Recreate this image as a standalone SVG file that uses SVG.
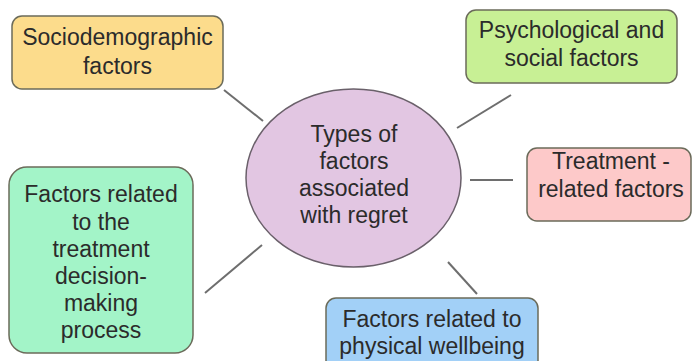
<svg xmlns="http://www.w3.org/2000/svg" width="696" height="361" viewBox="0 0 696 361">
<style>
text{font-family:"Liberation Sans",Arial,sans-serif;font-size:23px;text-anchor:middle;fill:#2b2b2b}
.box{stroke:#6b6b5a;stroke-width:1.5}
.conn line{stroke:#6e6e6e;stroke-width:2}
</style>
<rect width="696" height="361" fill="#ffffff"/>
<g class="conn" id="connectors">
<line x1="224" y1="90" x2="263" y2="121"/>
<line x1="457" y1="128" x2="511" y2="95"/>
<line x1="470" y1="180" x2="513" y2="180"/>
<line x1="448" y1="262" x2="477" y2="294"/>
<line x1="205" y1="293" x2="262" y2="245"/>
</g>
<g id="center">
<ellipse cx="353.5" cy="178" rx="107.5" ry="89" fill="#e2c6e2" stroke="#6a606a" stroke-width="1.5"/>
<text x="354" y="142">Types of</text>
<text x="354" y="169">factors</text>
<text x="354" y="196">associated</text>
<text x="354" y="223">with regret</text>
</g>
<g id="sociodemographic">
<rect class="box" x="12" y="16" width="211" height="73" rx="10" fill="#fcdc8c" stroke="#7a6a42"/>
<text x="117.5" y="45" fill="#3a3218">Sociodemographic</text>
<text x="117.5" y="74" fill="#3a3218">factors</text>
</g>
<g id="psychological">
<rect class="box" x="466" y="10" width="211" height="73" rx="10" fill="#c8f095" stroke="#5e7048"/>
<text x="571.5" y="38" fill="#263a16">Psychological and</text>
<text x="571.5" y="66" fill="#263a16">social factors</text>
</g>
<g id="treatment">
<rect class="box" x="527" y="148" width="164" height="73" rx="10" fill="#fdc9c9" stroke="#7a5a5a"/>
<text x="611" y="169" fill="#3a2a2a">Treatment -</text>
<text x="611" y="197" fill="#3a2a2a">related factors</text>
</g>
<g id="decision">
<rect class="box" x="9" y="167" width="184" height="186" rx="18" fill="#a3f4c8" stroke="#4d7a62"/>
<text x="101" y="202" fill="#1e3a2a">Factors related</text>
<text x="101" y="230" fill="#1e3a2a">to the</text>
<text x="101" y="257" fill="#1e3a2a">treatment</text>
<text x="101" y="284" fill="#1e3a2a">decision-</text>
<text x="101" y="311" fill="#1e3a2a">making</text>
<text x="101" y="338" fill="#1e3a2a">process</text>
</g>
<g id="physical">
<rect class="box" x="326" y="298" width="212" height="80" rx="10" fill="#a2d0f7" stroke="#4e6a84"/>
<text x="432" y="327" fill="#1e2e3e">Factors related to</text>
<text x="432" y="354" fill="#1e2e3e">physical wellbeing</text>
</g>
</svg>
